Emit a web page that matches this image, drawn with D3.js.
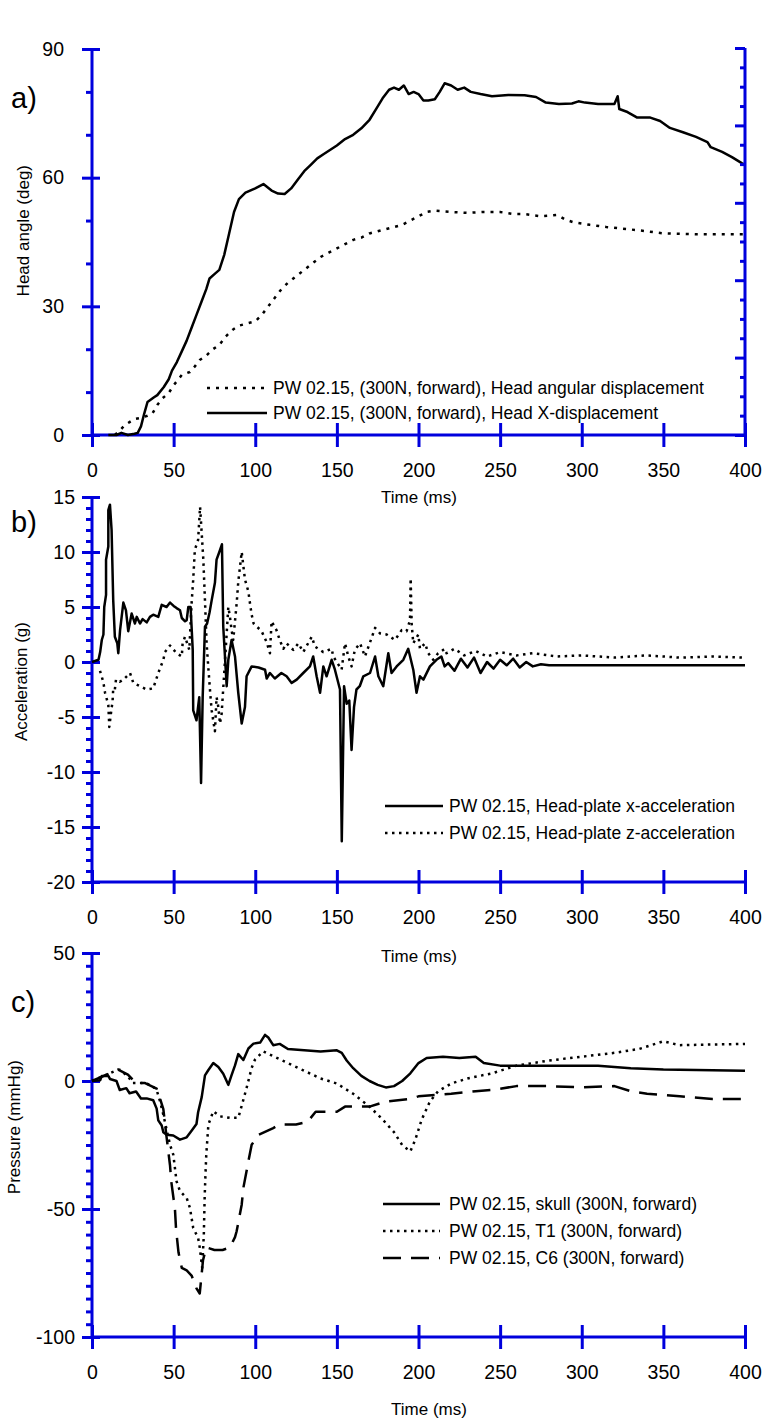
<!DOCTYPE html>
<html>
<head>
<meta charset="utf-8">
<script src="https://cdn.jsdelivr.net/npm/d3@7/dist/d3.min.js"></script>
<style>
  body { margin: 0; background: #fff; }
  svg { display: block; }
  text { font-family: "Liberation Sans", Arial, sans-serif; fill: #000; }
</style>
</head>
<body>
<div class="canva"></div>
<script>
// ---- tick values ----
const timeTicks = [0, 50, 100, 150, 200, 250, 300, 350, 400];
const angleTicks = [0, 30, 60, 90];
const accTicks = [-20, -15, -10, -5, 0, 5, 10, 15];
const presTicks = [-100, -50, 0, 50];

// ---- a) head angle / X-displacement  [time ms, value] ----
const headAngular = [[14,0],[17,1],[20,2.3],[23,3],[26,3.7],[30,4],[34,4.5],[37,5],[40,7],[43,8.5],[47,9.8],[50,11.6],[55,14],[60,14.7],[63,16],[66,17.5],[70,18.5],[74,20],[78,21],[82,23],[86,24.5],[90,25.5],[95,26],[100,26.5],[104,28],[108,30],[112,32],[116,34],[120,35.5],[125,37],[130,38.5],[135,40],[140,41.5],[145,42.5],[150,43.5],[155,44.5],[160,45.5],[165,46],[170,47],[175,47.5],[180,48],[185,48.5],[190,49],[195,50],[200,51],[205,52],[210,52.3],[220,52],[230,51.8],[240,52],[250,52],[258,51.5],[265,51.5],[275,51],[285,51.3],[290,50.2],[295,49.6],[305,49],[315,48.5],[328,48],[340,47.5],[350,47],[370,46.8],[390,46.8],[400,46.8]];
const headXDisp = [[10,0],[15,0],[18,0.5],[22,0],[26,0.3],[28,0.5],[30,2],[32,5],[34,7.7],[38,8.8],[40,9.3],[44,11.2],[47,13],[49,15],[52,17],[55,19.5],[58,22],[61,25],[64,28],[67,31],[70,34],[72,36.5],[75,37.5],[78,38.5],[81,42],[84,47],[87,52],[90,55],[94,56.5],[100,57.5],[105,58.5],[110,57],[114,56.3],[118,56.2],[122,57.5],[126,59.5],[130,61.5],[134,63],[138,64.5],[142,65.5],[146,66.5],[150,67.5],[155,69],[160,70],[165,71.5],[170,73.5],[174,76],[178,78.5],[182,80.5],[185,81],[188,80.5],[191,81.5],[194,79.5],[197,80],[200,79.5],[203,78],[206,78],[210,78.3],[213,80],[216,82],[220,81.5],[224,80.5],[228,81],[232,80],[238,79.5],[245,79],[255,79.3],[265,79.2],[272,78.8],[278,77.5],[286,77.2],[294,77.3],[298,77.8],[302,77.5],[310,77.2],[320,77.2],[322,79],[323,76],[328,75.3],[334,74],[342,74],[348,73.2],[354,71.6],[362,70.6],[370,69.5],[377,68.3],[379,67.1],[386,66],[392,64.8],[398,63.4],[400,63]];

// ---- b) head-plate accelerations (g) ----
const accX = [[0,0],[4,0.2],[5,0.9],[6,2],[7,2.5],[7.5,5],[8.6,6.1],[8.6,9.3],[10,10.5],[10,13.8],[11,14.3],[12,12],[13,5.6],[14,2.3],[15.5,1.7],[16.1,0.8],[17.2,2.9],[19.2,5.4],[20.8,4.7],[22.2,2.8],[24.3,4.4],[26.3,3.5],[27.4,4.1],[29.4,3.5],[31,3.9],[33.5,3.6],[35.5,4.1],[37.5,4.3],[40.6,4.1],[42.7,5.2],[45.7,5],[47.8,5.4],[50,5.1],[51.8,4.9],[53.9,4.7],[55,4],[57,3.7],[58,3.8],[59,5],[60.4,5],[61.7,1.1],[62,-4.4],[64,-5.3],[65.7,-3.2],[66.8,-11],[67.8,-3.2],[69.2,3.2],[70.5,3.5],[72,4.5],[73.3,5.6],[75.3,7.2],[76.3,9.3],[78,10],[79.6,10.7],[80.4,3.2],[82.5,-2.2],[83.5,0.2],[85.5,2],[87.6,0.5],[89.6,-2.8],[91.7,-5.6],[93.7,-4.1],[94.7,-1.3],[97.8,-0.4],[102,-0.5],[106,-0.7],[107,-1.5],[109,-1],[112,-1.5],[116,-1],[119.2,-1.3],[122.3,-1.9],[125.4,-1.6],[129.4,-1],[133.5,-0.4],[135.5,0.5],[137.6,-1.3],[139.7,-2.8],[141.7,-0.4],[143.7,-1.3],[146.8,0.2],[148.8,-0.7],[151.9,-2.5],[153,-16.3],[154.4,-2.2],[156,-3.8],[157.6,-3.5],[159,-8],[160.5,-4.1],[162,-2.5],[164,-2.2],[166.2,-1.3],[170.3,-1],[173.4,0.5],[175.4,-1.3],[178.4,-2.2],[181.5,0.8],[183.5,-1],[186.6,-0.4],[190.7,0.2],[193.7,1.2],[196.8,-0.7],[198.8,-2.8],[200.9,-1.3],[203,-1.6],[207,-0.4],[211,0.2],[214,0.5],[216,-0.4],[218.2,-0.1],[222,-0.8],[226,0.3],[230,-0.5],[234,0.4],[238,-1],[242,0],[246,-0.6],[250,0.2],[254,-0.3],[258,0.3],[262,-0.5],[266,0],[270,-0.4],[275,-0.2],[280,-0.3],[300,-0.3],[350,-0.3],[400,-0.3]];
const accZ = [[4.9,-0.8],[6.9,-1.8],[8,-2.8],[10,-3.9],[10.6,-5.9],[12,-4.2],[12.6,-3.6],[13,-2.4],[14,-2.5],[14.7,-1.6],[17,-1.8],[19.2,-1.6],[23.3,-1],[25.3,-1.9],[29.4,-2.2],[33.5,-2.5],[37.5,-2.4],[40.6,-1],[43.7,0.2],[44.7,0.9],[47.8,1.5],[51.8,0.8],[55,0.5],[55.5,1.7],[57,2.3],[59.6,1.1],[61,5.3],[62,7.5],[63,10.2],[65,11.1],[66.2,14.1],[67.2,11.7],[68.2,9.3],[69.2,5.6],[70.2,1.7],[71.2,-0.4],[72.5,-3],[73.3,-4.4],[75.3,-6.3],[76.3,-3.2],[77.4,-4.1],[78.4,-5.6],[79.4,-4.7],[81,-1],[83.5,5],[84.5,4.1],[85.5,2.9],[86.5,2],[88.6,5.3],[89.6,7.3],[91.7,10],[93.7,7.5],[95.8,6.4],[96.8,5.3],[97.8,4.3],[99,3.5],[103.9,2.8],[107,1.8],[109,0.8],[110,3.7],[113,2.9],[115,2],[117.2,1.2],[119.2,1.7],[123.3,1.1],[126.4,1.7],[129.4,0.9],[134.6,2.3],[136.6,1.4],[141.7,0.9],[146.8,1.2],[147.8,0.5],[152.9,-0.7],[155,1.7],[157,0.5],[159,-0.4],[161,1.1],[164.2,1.7],[167.2,0.5],[171.3,2.2],[173.4,3.1],[176.4,2.6],[180.5,2.5],[185.6,2],[189.7,2.9],[192.7,2.8],[194.8,3.8],[195.2,7.6],[195.8,3.5],[196.8,1.7],[199.9,2.5],[200.9,1.2],[204,1.7],[206,0.8],[209,0.2],[212,0.8],[216.2,1.2],[217.2,0.8],[222,1.2],[228,0.6],[235,1],[242,0.5],[250,0.9],[260,0.6],[270,0.8],[285,0.5],[300,0.6],[320,0.4],[340,0.6],[360,0.4],[380,0.5],[400,0.4]];

// ---- c) pressures (mmHg) ----
const skull = [[0,0],[5,0.3],[6,2],[10,2],[11,0.8],[15,0],[17,-3.5],[21,-2.8],[23,-4.8],[27,-4.1],[30,-6.8],[33.5,-6.8],[37.5,-7.5],[39.6,-10.8],[40.6,-15.4],[42.7,-17.4],[43.7,-20],[45.7,-21],[49.8,-21.3],[53.9,-22.9],[58,-22],[61,-19.4],[64,-16.8],[65,-12.2],[67.2,-6.3],[69.2,2.2],[71.2,4.2],[74.3,7],[77.4,5.5],[80.4,2.8],[83.5,-1.5],[85.5,2.3],[87.6,6.1],[89.6,10.5],[92.7,8.2],[95.8,12.7],[98.9,14.6],[103,15],[106,18],[108,17],[111,14],[115,14.5],[120,12.5],[130,12],[140,11.5],[150,12],[153,11],[156,8],[160,5],[165,2],[170,0],[175,-1.5],[180,-2.5],[185,-2],[190,0],[195,3],[200,7],[205,9],[215,9.5],[225,9],[235,9.5],[240,7],[250,6],[270,6],[290,6],[310,6],[330,5],[350,4.5],[370,4.3],[400,4]];
const t1 = [[0,0],[16,4.4],[17,4.4],[22,1.8],[25,-0.8],[32,-0.8],[36,-1.5],[39.6,-3.5],[41.7,-8],[43.7,-13.2],[45.7,-19],[47.8,-24.9],[49.8,-28.8],[51.8,-39.2],[53.9,-43],[58,-45.7],[60,-49.6],[62,-57.4],[65,-61.3],[66,-65],[67.5,-73],[68.5,-60],[69,-45.7],[69.5,-36.6],[70,-28.8],[71.3,-17],[74.3,-11.8],[78.4,-13.8],[84.5,-14.4],[89.6,-14.4],[92,-9],[94.7,-2.7],[97.8,5.1],[99.8,8.3],[104.9,11.6],[110,10],[120,7],[130,4],[140,1],[150,-1],[160,-5],[170,-10],[178,-15],[185,-20],[190,-25],[195,-27.5],[198,-23],[202,-15],[207,-8],[212,-4],[220,-1],[230,1],[245,3],[260,6],[280,8],[300,9.5],[320,11],[335,12.5],[345,14.5],[350,15.5],[360,14],[400,14.5]];
const c6 = [[0,0],[16,4.4],[22,2.5],[27,-0.8],[32.5,-0.8],[39.6,-3],[41,-5.5],[43.7,-11],[45.7,-22],[47.8,-33],[48.5,-39],[50.8,-50],[51.5,-58],[53,-67],[55,-73],[58,-74],[61,-76],[64,-81],[66,-83],[68,-70],[70,-65],[75,-66],[80,-66],[84.5,-65],[87.6,-61],[88.6,-58.7],[91.7,-48.3],[92.7,-41.8],[95.8,-31.4],[97.8,-24.9],[102,-21],[111,-18.4],[115,-17],[125,-17],[132,-16],[137,-12],[150,-12],[155,-10],[170,-10],[180,-8],[195,-7],[200,-6],[220,-5],[235,-4],[245,-3.5],[260,-2],[280,-2],[300,-2.5],[320,-2],[330,-4],[340,-5],[360,-6],[380,-7],[400,-7]];

const blue = "#0000dd";
const W = 768, H = 1423;

const svg = d3.select(".canva").append("svg")
    .attr("width", W)
    .attr("height", H);

const x = d3.scaleLinear().domain([0, 400]).range([92, 745]);

const dotted = "2.5,4.5";
const dashed = "18,10";
const plain = d => String(d); // keep a plain hyphen for negatives

function drawPanel(p) {
    const y = d3.scaleLinear().domain(p.domain).range([p.bottom, p.top]);
    const g = svg.append("g");

    // minor ticks (left, outside)
    g.append("g")
        .attr("transform", "translate(92,0)")
        .call(d3.axisLeft(y).tickValues(p.minor).tickSize(6).tickFormat(""))
        .call(a => a.select(".domain").remove());
    // major ticks, inner part
    g.append("g")
        .attr("transform", "translate(92,0)")
        .call(d3.axisRight(y).tickValues(p.ticks).tickSize(8).tickFormat(""))
        .call(a => a.select(".domain").remove());
    // major ticks with labels
    g.append("g")
        .attr("transform", "translate(92,0)")
        .call(d3.axisLeft(y).tickValues(p.ticks).tickSize(10).tickPadding(p.labelPad).tickFormat(plain))
        .call(a => a.select(".domain").remove())
        .call(a => a.selectAll("text").attr("font-size", 19.5));

    // bottom axis: ticks cross the line
    g.append("g")
        .attr("transform", `translate(0,${p.bottom})`)
        .call(d3.axisTop(x).tickValues(timeTicks).tickSize(12).tickFormat(""))
        .call(a => a.select(".domain").remove());
    g.append("g")
        .attr("transform", `translate(0,${p.bottom})`)
        .call(d3.axisBottom(x).tickValues(timeTicks).tickSize(12).tickPadding(16).tickFormat(plain))
        .call(a => a.select(".domain").remove())
        .call(a => a.selectAll("text").attr("font-size", 19.5));

    // axis lines
    g.append("line").attr("x1", 92).attr("x2", 92).attr("y1", p.top).attr("y2", p.bottom);
    g.append("line").attr("x1", 92).attr("x2", 745).attr("y1", p.bottom).attr("y2", p.bottom);

    g.selectAll("line").attr("stroke", blue).attr("stroke-width", 3);

    // series
    const line = d3.line().x(d => x(d[0])).y(d => y(d[1]));
    p.series.forEach(s => {
        g.append("path")
            .datum(s.data)
            .attr("d", line)
            .attr("fill", "none")
            .attr("stroke", "#000")
            .attr("stroke-width", 2.5)
            .attr("stroke-linejoin", "round")
            .attr("stroke-dasharray", s.dash);
    });

    // legend
    p.series.forEach((s, i) => {
        const ly = p.legendY + i * p.legendStep;
        g.append("line")
            .attr("class", "legend-line")
            .attr("x1", p.legendX).attr("x2", p.legendX + p.legendLen)
            .attr("y1", ly).attr("y2", ly)
            .attr("stroke", "#000").attr("stroke-width", 2.5)
            .attr("stroke-dasharray", s.dash);
        g.append("text")
            .attr("x", p.legendTextX)
            .attr("y", ly + 6)
            .attr("font-size", 17.5)
            .text(s.name);
    });

    // panel letter
    g.append("text").attr("x", 11).attr("y", p.letterY)
        .attr("font-size", 29).text(p.letter);

    // axis titles
    g.append("text")
        .attr("x", p.timeX).attr("y", p.timeY)
        .attr("text-anchor", "middle")
        .attr("font-size", 17)
        .text("Time (ms)");
    g.append("text")
        .attr("transform", `translate(${p.titleX},${p.titleEnd}) rotate(-90)`)
        .attr("text-anchor", "end")
        .attr("font-size", 17)
        .text(p.yTitle);

    return { g, y };
}

// panel a
const pa = drawPanel({
    domain: [0, 90], top: 49, bottom: 435,
    ticks: angleTicks, minor: [10, 20, 40, 50, 70, 80], labelPad: 18,
    series: [
        { name: "PW 02.15, (300N, forward), Head angular displacement", data: headAngular, dash: "3,6" },
        { name: "PW 02.15, (300N, forward), Head X-displacement", data: headXDisp, dash: null }
    ],
    legendX: 207, legendLen: 60, legendTextX: 273, legendY: 388, legendStep: 25,
    letter: "a)", letterY: 108,
    timeX: 419, timeY: 503,
    titleX: 29, titleEnd: 165, yTitle: "Head angle (deg)"
});

// right axis of panel a (unlabelled)
const yRight = d3.scaleLinear().domain([0, 5]).range([435, 48]);
const ra = pa.g.append("g").attr("class", "right-axis");
ra.append("g")
    .attr("transform", "translate(745,0)")
    .call(d3.axisLeft(yRight).tickValues(d3.range(0, 5.01, 0.25).filter(v => v % 1 !== 0)).tickSize(5).tickFormat(""))
    .call(a => a.select(".domain").remove());
ra.append("g")
    .attr("transform", "translate(745,0)")
    .call(d3.axisLeft(yRight).tickValues(d3.range(0, 6)).tickSize(10).tickFormat(""))
    .call(a => a.select(".domain").remove());
ra.append("line").attr("x1", 745).attr("x2", 745).attr("y1", 48).attr("y2", 435);
ra.selectAll("line").attr("stroke", blue).attr("stroke-width", 3);

// panel b
drawPanel({
    domain: [-20, 15], top: 497, bottom: 882,
    ticks: accTicks, minor: d3.range(-19, 15).filter(v => v % 5 !== 0), labelPad: 7,
    series: [
        { name: "PW 02.15, Head-plate x-acceleration", data: accX, dash: null },
        { name: "PW 02.15, Head-plate z-acceleration", data: accZ, dash: dotted }
    ],
    legendX: 385, legendLen: 58, legendTextX: 449, legendY: 806, legendStep: 27,
    letter: "b)", letterY: 532,
    timeX: 419, timeY: 962,
    titleX: 27, titleEnd: 622, yTitle: "Acceleration (g)"
});

// panel c
drawPanel({
    domain: [-100, 50], top: 953, bottom: 1337,
    ticks: presTicks, minor: d3.range(-95, 50, 5).filter(v => v % 50 !== 0), labelPad: 7,
    series: [
        { name: "PW 02.15, skull (300N, forward)", data: skull, dash: null },
        { name: "PW 02.15, T1 (300N, forward)", data: t1, dash: dotted },
        { name: "PW 02.15, C6 (300N, forward)", data: c6, dash: dashed }
    ],
    legendX: 383, legendLen: 57, legendTextX: 449, legendY: 1204, legendStep: 27,
    letter: "c)", letterY: 1012,
    timeX: 429, timeY: 1415,
    titleX: 20, titleEnd: 1060, yTitle: "Pressure (mmHg)"
});
</script>
</body>
</html>
